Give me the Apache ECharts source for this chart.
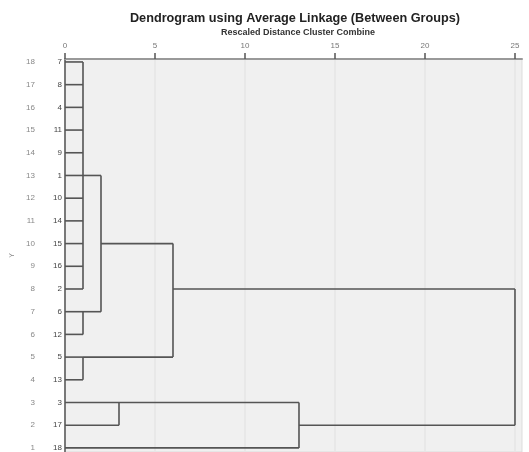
<!DOCTYPE html>
<html><head><meta charset="utf-8">
<script src="https://cdn.jsdelivr.net/npm/echarts@6/dist/echarts.min.js"></script>
<style>html,body{margin:0;padding:0;background:#fff}#c{width:529px;height:452px}</style>
</head><body><div id="c"></div>
<script>
// ---- data ----
const leafLabels = ['7','8','4','11','9','1','10','14','15','16','2','6','12','5','13','3','17','18']; // top to bottom
const rowNumbers = [18,17,16,15,14,13,12,11,10,9,8,7,6,5,4,3,2,1];
const distanceTicks = [0,5,10,15,20,25];
const mergeNames = ['A','B','C','D','AB','ABC','D18','ROOT'];
const mergeChildren = [
  ['7','8','4','11','9','1','10','14','15','16','2'],
  ['6','12'],
  ['5','13'],
  ['3','17'],
  ['A','B'],
  ['AB','C'],
  ['D','18'],
  ['ABC','D18']
];
const mergeDistances = [1,1,1,3,2,6,13,25];

// ---- layout (SPSS style) ----
const nodes = {};
leafLabels.forEach((l,i)=>{ nodes[l] = {h:0, out:rowNumbers[i]}; });
const segments = [];
mergeNames.forEach((name,k)=>{
  const h = mergeDistances[k];
  const ch = mergeChildren[k].map(c=>nodes[c]);
  const outs = ch.map(c=>c.out);
  const mx = Math.max(...outs), mn = Math.min(...outs);
  segments.push([h, mn, h, mx]);
  ch.forEach(c=>segments.push([c.h, c.out, h, c.out]));
  nodes[name] = {h:h, out:Math.ceil((mx+mn)/2)};
});

const FF = '"Liberation Sans", Arial, sans-serif';
const chart = echarts.init(document.getElementById('c'), null, {renderer:'canvas'});
chart.setOption({
  animation:false,
  backgroundColor:'#ffffff',
  graphic:[
    {type:'text', x:295, y:18, style:{text:'Dendrogram using Average Linkage (Between Groups)', font:'bold 12.7px '+FF, fill:'#222', textAlign:'center', textVerticalAlign:'middle'}},
    {type:'text', x:298, y:33, style:{text:'Rescaled Distance Cluster Combine', font:'bold 9px '+FF, fill:'#333', textAlign:'center', textVerticalAlign:'middle'}}
  ],
  grid:{left:65, top:59, right:7, bottom:0, show:true, backgroundColor:'#f0f0f0', borderColor:'#dddddd', borderWidth:1, containLabel:false},
  xAxis:{
    type:'value', position:'top', min:0, max:25.39, interval:5,
    axisLine:{show:true, lineStyle:{color:'#999', width:2}},
    axisTick:{show:true, length:6, customValues:distanceTicks, lineStyle:{color:'#555', width:1.5}},
    axisLabel:{customValues:distanceTicks, margin:9, fontSize:8, color:'#777', fontFamily:FF},
    splitLine:{show:true, lineStyle:{color:'#e6e6e6', width:1.5}}
  },
  yAxis:[
    {
      type:'value', min:0.82, max:18.13, position:'left',
      axisLine:{show:true, lineStyle:{color:'#555', width:1.5}},
      axisTick:{show:false},
      axisLabel:{customValues:rowNumbers, margin:3, fontSize:8, color:'#444', fontFamily:FF,
        formatter:v=>leafLabels[rowNumbers.indexOf(v)]},
      splitLine:{show:false}
    },
    {
      type:'value', min:0.82, max:18.13, position:'left',
      name:'Y', nameLocation:'middle', nameGap:46, nameTextStyle:{fontSize:7, color:'#888', fontFamily:FF},
      axisLine:{show:false}, axisTick:{show:false},
      axisLabel:{customValues:rowNumbers, margin:30, fontSize:8, color:'#888', fontFamily:FF},
      splitLine:{show:false}
    }
  ],
  series:[{
    type:'custom', xAxisIndex:0, yAxisIndex:0,
    data:segments,
    encode:{x:[0,2], y:[1,3]},
    renderItem:function(params, api){
      const p1 = api.coord([api.value(0), api.value(1)]);
      const p2 = api.coord([api.value(2), api.value(3)]);
      return {type:'line', shape:{x1:p1[0], y1:p1[1], x2:p2[0], y2:p2[1]}, style:{stroke:'#555', lineWidth:1.6}};
    }
  }]
});
</script></body></html>
